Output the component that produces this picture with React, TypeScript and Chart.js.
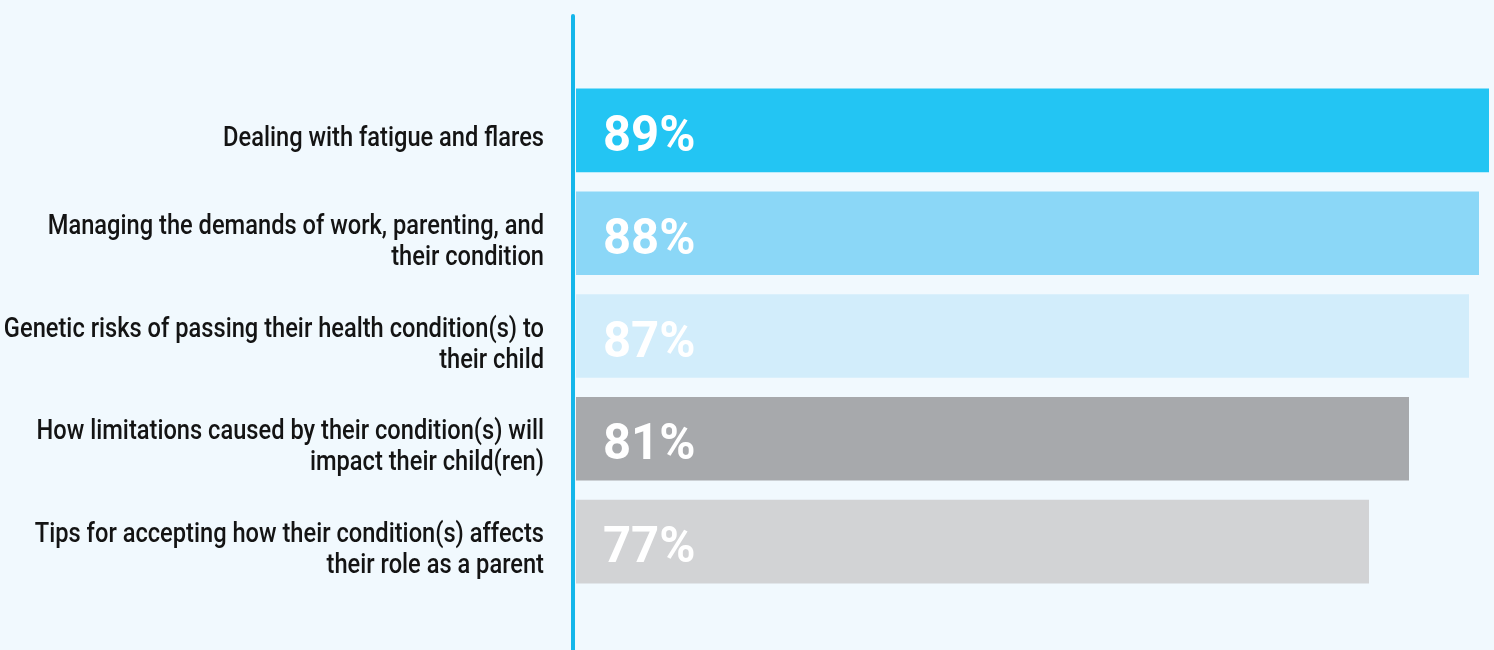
import React, { useEffect, useRef } from "react";
import { Chart, registerables } from "chart.js";

Chart.register(...registerables);

const categories: string[][] = [
  ["Dealing with fatigue and flares"],
  ["Managing the demands of work, parenting, and", "their condition"],
  ["Genetic risks of passing their health condition(s) to", "their child"],
  ["How limitations caused by their condition(s) will", "impact their child(ren)"],
  ["Tips for accepting how their condition(s) affects", "their role as a parent"],
];
const values = [89, 88, 87, 81, 77];
const valueLabels = ["89%", "88%", "87%", "81%", "77%"];
const barColors = ["#23c5f3", "#8bd7f7", "#d2edfb", "#a7a9ac", "#d2d3d5"];

const BG = "#f1f9fe";
const AXIS_MIN = -2.3;
const AXIS_MAX = 89.5;

const overlayPlugin = {
  id: "overlay",
  afterDatasetsDraw(chart: any) {
    const { ctx, chartArea, scales } = chart;
    const y = scales.y;
    ctx.save();
    // axis line
    ctx.strokeStyle = "#14b6ea";
    ctx.lineWidth = 4;
    ctx.lineCap = "round";
    ctx.beginPath();
    ctx.moveTo(chartArea.left - 3, 16);
    ctx.lineTo(chartArea.left - 3, chart.height + 4);
    ctx.stroke();

    // category labels
    ctx.fillStyle = "#141414";
    ctx.font = "500 28px Roboto";
    ctx.textAlign = "right";
    ctx.textBaseline = "middle";
    const lh = 31;
    categories.forEach((lines, i) => {
      const cy = y.getPixelForValue(i) + 9;
      const start = cy - ((lines.length - 1) * lh) / 2;
      lines.forEach((line, j) => {
        ctx.save();
        ctx.translate(chartArea.left - 32, start + j * lh);
        ctx.scale(0.845, 1);
        ctx.fillText(line, 0, 0);
        ctx.restore();
      });
    });

    // value labels
    ctx.fillStyle = "#ffffff";
    ctx.font = "bold 50px Roboto";
    ctx.textAlign = "left";
    valueLabels.forEach((lab, i) => {
      const cy = y.getPixelForValue(i) + 8;
      ctx.save();
      ctx.translate(chartArea.left + 27, cy);
      ctx.scale(0.98, 1);
      ctx.fillText(lab, 0, 0);
      ctx.restore();
    });
    ctx.restore();
  },
};

export default function App() {
  const ref = useRef<HTMLCanvasElement | null>(null);
  useEffect(() => {
    document.body.style.margin = "0";
    document.body.style.background = BG;
    const chart = new Chart(ref.current as HTMLCanvasElement, {
      type: "bar",
      data: {
        labels: categories.map((c) => c.join(" ")),
        datasets: [
          {
            data: values,
            backgroundColor: barColors,
            borderWidth: 0,
            base: AXIS_MIN,
            categoryPercentage: 1,
            barPercentage: 0.813,
          } as any,
        ],
      },
      options: {
        indexAxis: "y",
        animation: false,
        responsive: true,
        maintainAspectRatio: false,
        layout: { padding: { top: 79, bottom: 57, left: 0, right: 0 } },
        plugins: { legend: { display: false }, tooltip: { enabled: false } },
        scales: {
          x: { display: false, min: AXIS_MIN, max: AXIS_MAX },
          y: {
            ticks: { display: false },
            grid: { display: false },
            border: { display: false },
            afterFit: (s: any) => {
              s.width = 576;
            },
          },
        },
      },
      plugins: [overlayPlugin],
    });
    return () => chart.destroy();
  }, []);
  return (
    <div style={{ position: "absolute", left: 0, top: 0, width: 1494, height: 650, background: BG }}>
      <canvas ref={ref} />
    </div>
  );
}
